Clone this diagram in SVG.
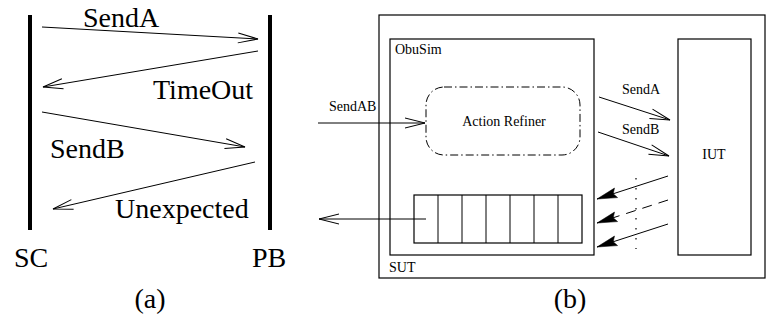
<svg xmlns="http://www.w3.org/2000/svg" width="766" height="320" viewBox="0 0 766 320">
<style>
.big{font-size:28px}
.sm{font-size:14px}
.ln{stroke:#000;stroke-width:1;fill:none}
.bar{stroke:#000;stroke-width:4}
.box{fill:none;stroke:#000;stroke-width:1.2}
</style>
<defs>
<marker id="open" viewBox="-22 -7 24 14" refX="0" refY="0" markerWidth="24" markerHeight="14" orient="auto" markerUnits="userSpaceOnUse">
<path d="M-20,-5 L0,0 L-20,5" fill="none" stroke="#000" stroke-width="1"/>
</marker>
<marker id="fill" viewBox="-22 -7 24 14" refX="0" refY="0" markerWidth="24" markerHeight="14" orient="auto" markerUnits="userSpaceOnUse">
<path d="M-20,-5 L0,0 L-20,5 L-17,0 z" fill="#000" stroke="#000" stroke-width="0.5"/>
</marker>
</defs>
<rect width="766" height="320" fill="#fff"/>
<g font-family="Liberation Serif, Times New Roman, serif" fill="#000">

<!-- (a) sequence diagram -->
<g id="SC">
<line class="bar" x1="30" y1="15" x2="30" y2="230"/>
<text class="big" x="14" y="267">SC</text>
</g>
<g id="PB">
<line class="bar" x1="270" y1="15" x2="270" y2="230"/>
<text class="big" x="252" y="267">PB</text>
</g>
<g id="connectors-a">
<line class="ln" x1="42" y1="27" x2="258" y2="39" marker-end="url(#open)"/>
<line class="ln" x1="258" y1="51" x2="43" y2="87" marker-end="url(#open)"/>
<line class="ln" x1="42" y1="112" x2="245" y2="147" marker-end="url(#open)"/>
<line class="ln" x1="255" y1="162" x2="53" y2="209" marker-end="url(#open)"/>
</g>
<g id="labels-a">
<text class="big" x="83" y="27">SendA</text>
<text class="big" x="153" y="99">TimeOut</text>
<text class="big" x="50" y="158">SendB</text>
<text class="big" x="115" y="218">Unexpected</text>
<text class="big" x="150" y="308" text-anchor="middle">(a)</text>
</g>

<!-- (b) architecture -->
<g id="SUT">
<rect class="box" x="379" y="15" width="386" height="263"/>
<text class="sm" x="389" y="272">SUT</text>
</g>
<g id="ObuSim">
<rect class="box" x="390" y="39" width="204" height="216"/>
<text class="sm" x="395" y="54">ObuSim</text>
</g>
<g id="ActionRefiner">
<rect x="426" y="87" width="154" height="68" rx="18" ry="18" fill="none" stroke="#000" stroke-width="1" stroke-dasharray="8 3 1.5 3"/>
<text class="sm" x="504" y="126" text-anchor="middle">Action Refiner</text>
</g>
<g id="Queue">
<rect class="box" x="414" y="195" width="168" height="48"/>
<path class="ln" d="M438,195V243M462,195V243M486,195V243M510,195V243M534,195V243M558,195V243"/>
</g>
<g id="IUT">
<rect class="box" x="678" y="39" width="73" height="216"/>
<text class="sm" x="714" y="159" text-anchor="middle">IUT</text>
</g>
<g id="connectors-b">
<line class="ln" x1="318" y1="123" x2="425" y2="123" marker-end="url(#open)"/>
<line class="ln" x1="426" y1="219" x2="319" y2="219" marker-end="url(#open)"/>
<line class="ln" x1="599" y1="97" x2="670" y2="120" marker-end="url(#open)"/>
<line class="ln" x1="598" y1="132" x2="669" y2="156" marker-end="url(#open)"/>
<line class="ln" x1="668" y1="176" x2="597" y2="199" marker-end="url(#fill)"/>
<line class="ln" x1="668" y1="200" x2="597" y2="223" stroke-dasharray="10 7" marker-end="url(#fill)"/>
<line class="ln" x1="668" y1="224" x2="597" y2="247" marker-end="url(#fill)"/>
<line x1="636" y1="178" x2="636" y2="249" stroke="#000" stroke-width="1.2" stroke-dasharray="1.5 8.5"/>
</g>
<g id="labels-b">
<text class="sm" x="329" y="111">SendAB</text>
<text class="sm" x="622" y="94">SendA</text>
<text class="sm" x="622" y="134">SendB</text>
<text class="big" x="570" y="308" text-anchor="middle">(b)</text>
</g>
</g>
</svg>
